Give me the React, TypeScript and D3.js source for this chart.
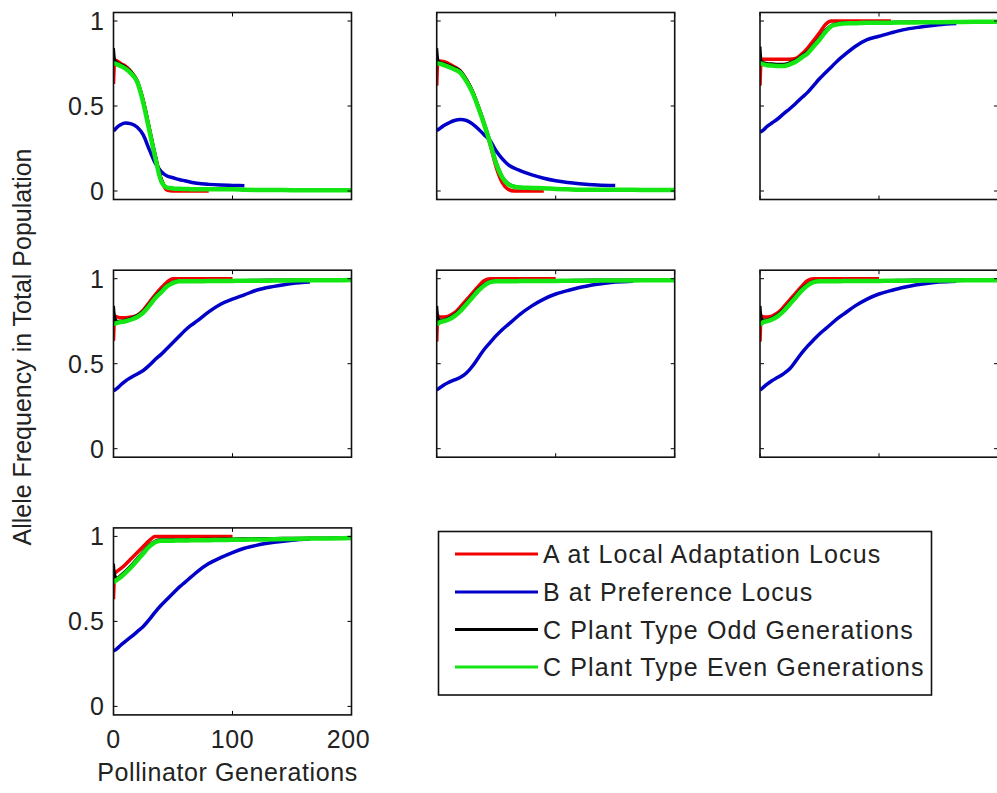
import React from "react";
import * as d3 from "d3";

// Pollinator generations at which values were read
const GEN = [0, 1, 3, 6, 10, 15, 20, 25, 30, 35, 40, 45, 50, 55, 60, 65, 70, 80, 90, 100, 110, 120, 135, 150, 165, 180, 200];

const X_TICKS = [0, 100, 200];
const Y_TICKS = [0, 0.5, 1];
const Y_TICK_LABELS = ["0", "0.5", "1"];
const X_LABEL = "Pollinator Generations";
const Y_LABEL = "Allele Frequency in Total Population";
const SERIES_NAMES = [
  "A at Local Adaptation Locus",
  "B at Preference Locus",
  "C Plant Type Odd Generations",
  "C Plant Type Even Generations",
];
const SERIES_COLORS = ["#f00000", "#0000c8", "#000000", "#14e614"];

const N = null;
// Panel 1
const P1_A = [0.63, 0.77, 0.765, 0.75, 0.735, 0.70, 0.64, 0.53, 0.37, 0.21, 0.07, 0.005, 0, 0, 0, 0, 0, 0, N, N, N, N, N, N, N, N, N];
const P1_B = [0.355, 0.36, 0.375, 0.39, 0.40, 0.395, 0.375, 0.33, 0.245, 0.165, 0.115, 0.088, 0.078, 0.068, 0.06, 0.052, 0.046, 0.039, 0.035, 0.033, 0.031, N, N, N, N, N, N];
const P1_CO = [0.84, 0.77, 0.755, 0.745, 0.73, 0.70, 0.65, 0.535, 0.375, 0.215, 0.075, 0.02, 0.014, 0.013, 0.012, 0.011, 0.011, 0.01, 0.01, 0.01, 0.008, 0.007, 0.006, 0.006, 0.005, 0.005, 0.005];
const P1_CE = [0.75, 0.75, 0.745, 0.735, 0.72, 0.69, 0.64, 0.52, 0.36, 0.20, 0.06, 0.02, 0.015, 0.013, 0.012, 0.011, 0.01, 0.01, 0.01, 0.01, 0.007, 0.006, 0.006, 0.005, 0.005, 0.005, 0.005];
// Panel 2
const P2_A = [0.62, 0.765, 0.765, 0.76, 0.75, 0.73, 0.705, 0.655, 0.585, 0.495, 0.39, 0.27, 0.14, 0.05, 0.01, 0, 0, 0, 0, N, N, N, N, N, N, N, N];
const P2_B = [0.355, 0.36, 0.37, 0.385, 0.40, 0.415, 0.42, 0.415, 0.395, 0.365, 0.33, 0.295, 0.235, 0.19, 0.155, 0.135, 0.12, 0.095, 0.075, 0.06, 0.05, 0.043, 0.036, 0.033, N, N, N];
const P2_CO = [0.84, 0.77, 0.755, 0.75, 0.74, 0.725, 0.705, 0.655, 0.59, 0.50, 0.40, 0.29, 0.17, 0.085, 0.045, 0.028, 0.022, 0.019, 0.016, 0.012, 0.01, 0.008, 0.008, 0.007, 0.007, 0.006, 0.006];
const P2_CE = [0.75, 0.75, 0.748, 0.74, 0.73, 0.715, 0.695, 0.645, 0.58, 0.49, 0.39, 0.28, 0.16, 0.08, 0.04, 0.025, 0.02, 0.018, 0.016, 0.012, 0.01, 0.008, 0.008, 0.007, 0.007, 0.006, 0.006];
// Panel 3
const P3_A = [0.62, 0.776, 0.775, 0.775, 0.775, 0.775, 0.775, 0.775, 0.78, 0.805, 0.84, 0.885, 0.93, 0.98, 1.0, 1.0, 1.0, 1.0, 1.0, 1.0, 1.0, N, N, N, N, N, N];
const P3_B = [0.345, 0.35, 0.36, 0.38, 0.40, 0.425, 0.455, 0.484, 0.515, 0.548, 0.58, 0.62, 0.66, 0.695, 0.73, 0.765, 0.795, 0.85, 0.89, 0.91, 0.93, 0.948, 0.965, 0.978, 0.985, N, N];
const P3_CO = [0.85, 0.76, 0.755, 0.75, 0.748, 0.745, 0.745, 0.755, 0.77, 0.795, 0.82, 0.86, 0.90, 0.945, 0.975, 0.985, 0.99, 0.99, 0.992, 0.993, 0.993, 0.994, 0.995, 0.995, 0.996, 0.996, 0.996];
const P3_CE = [0.75, 0.75, 0.745, 0.74, 0.738, 0.735, 0.735, 0.745, 0.76, 0.785, 0.81, 0.85, 0.89, 0.935, 0.97, 0.98, 0.985, 0.987, 0.99, 0.99, 0.99, 0.991, 0.992, 0.993, 0.994, 0.995, 0.995];
// Panel 4
const P4_A = [0.635, 0.78, 0.775, 0.77, 0.77, 0.775, 0.785, 0.815, 0.86, 0.905, 0.945, 0.98, 1.0, 1.0, 1.0, 1.0, 1.0, 1.0, 1.0, 1.0, N, N, N, N, N, N, N];
const P4_B = [0.34, 0.345, 0.355, 0.375, 0.398, 0.42, 0.44, 0.46, 0.49, 0.525, 0.555, 0.59, 0.625, 0.66, 0.695, 0.725, 0.75, 0.805, 0.85, 0.88, 0.905, 0.932, 0.955, 0.972, 0.98, N, N];
const P4_CO = [0.84, 0.77, 0.75, 0.75, 0.757, 0.768, 0.785, 0.81, 0.85, 0.895, 0.93, 0.962, 0.98, 0.988, 0.988, 0.988, 0.988, 0.989, 0.989, 0.99, 0.99, 0.991, 0.992, 0.993, 0.993, 0.994, 0.994];
const P4_CE = [0.73, 0.735, 0.74, 0.745, 0.75, 0.76, 0.775, 0.80, 0.84, 0.885, 0.92, 0.955, 0.975, 0.985, 0.985, 0.985, 0.985, 0.986, 0.986, 0.987, 0.988, 0.988, 0.989, 0.99, 0.991, 0.991, 0.992];
// Panel 5
const P5_A = [0.63, 0.78, 0.775, 0.775, 0.78, 0.80, 0.835, 0.875, 0.915, 0.955, 0.99, 1.0, 1.0, 1.0, 1.0, 1.0, 1.0, 1.0, 1.0, 1.0, N, N, N, N, N, N, N];
const P5_B = [0.345, 0.35, 0.36, 0.375, 0.39, 0.405, 0.42, 0.445, 0.485, 0.535, 0.585, 0.625, 0.665, 0.70, 0.73, 0.76, 0.79, 0.84, 0.88, 0.91, 0.93, 0.948, 0.967, 0.98, 0.985, N, N];
const P5_CO = [0.84, 0.77, 0.755, 0.758, 0.768, 0.79, 0.82, 0.86, 0.90, 0.94, 0.968, 0.985, 0.988, 0.988, 0.988, 0.988, 0.989, 0.989, 0.99, 0.99, 0.99, 0.991, 0.992, 0.993, 0.993, 0.994, 0.994];
const P5_CE = [0.73, 0.735, 0.745, 0.75, 0.76, 0.78, 0.81, 0.85, 0.89, 0.93, 0.96, 0.98, 0.985, 0.985, 0.985, 0.985, 0.986, 0.986, 0.987, 0.987, 0.988, 0.988, 0.989, 0.99, 0.99, 0.991, 0.991];
// Panel 6
const P6_A = [0.63, 0.78, 0.775, 0.775, 0.78, 0.80, 0.835, 0.875, 0.915, 0.955, 0.99, 1.0, 1.0, 1.0, 1.0, 1.0, 1.0, 1.0, 1.0, 1.0, N, N, N, N, N, N, N];
const P6_B = [0.345, 0.35, 0.362, 0.38, 0.40, 0.42, 0.442, 0.47, 0.515, 0.562, 0.603, 0.64, 0.675, 0.705, 0.735, 0.765, 0.79, 0.84, 0.88, 0.91, 0.93, 0.948, 0.967, 0.98, 0.985, N, N];
const P6_CO = [0.84, 0.77, 0.755, 0.758, 0.768, 0.79, 0.82, 0.86, 0.90, 0.94, 0.968, 0.985, 0.988, 0.988, 0.988, 0.988, 0.989, 0.989, 0.99, 0.99, 0.99, 0.991, 0.992, 0.993, 0.993, 0.994, 0.994];
const P6_CE = [0.73, 0.735, 0.745, 0.75, 0.76, 0.78, 0.81, 0.85, 0.89, 0.93, 0.96, 0.98, 0.985, 0.985, 0.985, 0.985, 0.986, 0.986, 0.987, 0.987, 0.988, 0.988, 0.989, 0.99, 0.99, 0.991, 0.991];
// Panel 7
const P7_A = [0.63, 0.78, 0.795, 0.81, 0.835, 0.87, 0.905, 0.94, 0.975, 1.0, 1.0, 1.0, 1.0, 1.0, 1.0, 1.0, 1.0, 1.0, 1.0, 1.0, N, N, N, N, N, N, N];
const P7_B = [0.327, 0.33, 0.34, 0.36, 0.383, 0.41, 0.44, 0.47, 0.51, 0.555, 0.595, 0.63, 0.665, 0.70, 0.73, 0.76, 0.79, 0.84, 0.875, 0.905, 0.93, 0.947, 0.965, 0.978, 0.985, N, N];
const P7_CO = [0.84, 0.77, 0.755, 0.77, 0.795, 0.83, 0.87, 0.91, 0.948, 0.972, 0.98, 0.98, 0.98, 0.981, 0.981, 0.982, 0.982, 0.983, 0.984, 0.985, 0.986, 0.987, 0.988, 0.989, 0.99, 0.991, 0.992];
const P7_CE = [0.73, 0.735, 0.745, 0.76, 0.785, 0.82, 0.86, 0.90, 0.94, 0.965, 0.975, 0.975, 0.975, 0.976, 0.976, 0.977, 0.977, 0.978, 0.979, 0.98, 0.981, 0.982, 0.983, 0.985, 0.987, 0.988, 0.99];

const PANELS = [
  { row: 0, col: 0, series: [P1_A, P1_B, P1_CO, P1_CE] },
  { row: 0, col: 1, series: [P2_A, P2_B, P2_CO, P2_CE] },
  { row: 0, col: 2, series: [P3_A, P3_B, P3_CO, P3_CE] },
  { row: 1, col: 0, series: [P4_A, P4_B, P4_CO, P4_CE] },
  { row: 1, col: 1, series: [P5_A, P5_B, P5_CO, P5_CE] },
  { row: 1, col: 2, series: [P6_A, P6_B, P6_CO, P6_CE] },
  { row: 2, col: 0, series: [P7_A, P7_B, P7_CO, P7_CE] },
];

const W = 997;
const H = 793;
const COL_LEFT = [113.5, 436.7, 760];
const ROW_TOP = [12.5, 270.2, 527.9];
const PW = 238;
const PH = 187;
const FONT = "'Liberation Sans', Arial, sans-serif";
const FS = 25;

// draw order: A, B, C odd, C even (green on top)
const DRAW_ORDER = [0, 1, 2, 3];
const STROKE_W = [3.5, 3.5, 3, 4.5];

function Panel({ p, idx }: { p: (typeof PANELS)[number]; idx: number }) {
  const x0 = COL_LEFT[p.col];
  const y0 = ROW_TOP[p.row];
  const x = d3.scaleLinear().domain([0, 200]).range([x0, x0 + PW]);
  const y = d3.scaleLinear().domain([-0.05, 1.05]).range([y0 + PH, y0]);
  const clipId = `clip-${idx}`;
  const showY = p.col === 0;
  const showX = p.row === 2;
  const tickLen = 4;
  return (
    <g>
      <defs>
        <clipPath id={clipId}>
          <rect x={x0} y={y0} width={PW} height={PH} />
        </clipPath>
      </defs>
      <rect x={x0} y={y0} width={PW} height={PH} fill="#fff" />
      <g clipPath={`url(#${clipId})`}>
        {DRAW_ORDER.map((si) => {
          const vals = p.series[si];
          const pts: [number, number][] = [];
          vals.forEach((v, i) => {
            if (v !== null) pts.push([GEN[i], v as number]);
          });
          const line = d3
            .line<[number, number]>()
            .x((d) => x(d[0]))
            .y((d) => y(d[1]))
            .curve(d3.curveMonotoneX);
          return (
            <path
              key={si}
              d={line(pts) || ""}
              fill="none"
              stroke={SERIES_COLORS[si]}
              strokeWidth={STROKE_W[si]}
              strokeLinejoin="round"
            />
          );
        })}
      </g>
      {Y_TICKS.map((t, i) => (
        <g key={`yt${i}`}>
          <line x1={x0} x2={x0 + tickLen} y1={y(t)} y2={y(t)} stroke="#000" strokeWidth={1} />
          <line x1={x0 + PW} x2={x0 + PW - tickLen} y1={y(t)} y2={y(t)} stroke="#000" strokeWidth={1} />
          {showY && (
            <text
              x={x0 - 9}
              y={y(t)}
              textAnchor="end"
              dominantBaseline="central"
              fontFamily={FONT}
              fontSize={FS}
              letterSpacing={0.6}
              fill="#222"
            >
              {Y_TICK_LABELS[i]}
            </text>
          )}
        </g>
      ))}
      {X_TICKS.map((t, i) => (
        <g key={`xt${i}`}>
          <line x1={x(t)} x2={x(t)} y1={y0 + PH} y2={y0 + PH - tickLen} stroke="#000" strokeWidth={1} />
          <line x1={x(t)} x2={x(t)} y1={y0} y2={y0 + tickLen} stroke="#000" strokeWidth={1} />
          {showX && (
            <text
              x={x(t) - (t === 200 ? 3 : 0)}
              y={y0 + PH + 33}
              textAnchor="middle"
              fontFamily={FONT}
              fontSize={FS}
              letterSpacing={0.6}
              fill="#222"
            >
              {t}
            </text>
          )}
        </g>
      ))}
      <rect x={x0} y={y0} width={PW} height={PH} fill="none" stroke="#111" strokeWidth={1.6} />
    </g>
  );
}

export default function App() {
  const legX = 438.5;
  const legY = 531.5;
  const legW = 493;
  const legH = 163.5;
  const rowY = [554, 592, 629.5, 667];
  const p7x = COL_LEFT[0] + PW / 2;
  return (
    <svg
      width={W}
      height={H}
      style={{ position: "absolute", left: 0, top: 0, background: "#fff" }}
    >
      <rect x={0} y={0} width={W} height={H} fill="#fff" />
      {PANELS.map((p, i) => (
        <Panel key={i} p={p} idx={i} />
      ))}
      <text
        x={p7x - 5}
        y={781}
        textAnchor="middle"
        fontFamily={FONT}
        fontSize={FS}
        letterSpacing={0.6}
        fill="#222"
      >
        {X_LABEL}
      </text>
      <text
        transform={`translate(31, 347) rotate(-90)`}
        textAnchor="middle"
        fontFamily={FONT}
        fontSize={FS}
        fill="#222"
      >
        {Y_LABEL}
      </text>
      <rect x={legX} y={legY} width={legW} height={legH} fill="#fff" stroke="#111" strokeWidth={1.6} />
      {SERIES_NAMES.map((name, i) => (
        <g key={name}>
          <line x1={455} x2={538} y1={rowY[i]} y2={rowY[i]} stroke={SERIES_COLORS[i]} strokeWidth={3} />
          <text
            x={543}
            y={rowY[i]}
            dominantBaseline="central"
            fontFamily={FONT}
            fontSize={FS}
            letterSpacing={1.1}
            fill="#222"
          >
            {name}
          </text>
        </g>
      ))}
    </svg>
  );
}
